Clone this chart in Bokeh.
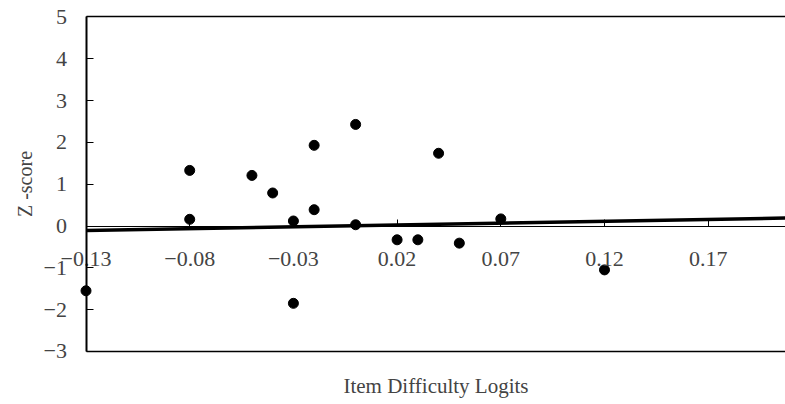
from bokeh.plotting import figure
from bokeh.models import LinearAxis, FixedTicker, Range1d
from bokeh.embed import file_html
from bokeh.resources import INLINE

# Item difficulty (logits) vs. standardized fit (Z-score)
item_logits = [-0.13, -0.08, -0.08, -0.05, -0.04, -0.03, -0.03, -0.02, -0.02,
               0.00, 0.00, 0.02, 0.03, 0.04, 0.05, 0.07, 0.12]
z_scores = [-1.55, 0.16, 1.33, 1.21, 0.79, 0.12, -1.85, 1.93, 0.39,
            2.43, 0.03, -0.33, -0.33, 1.74, -0.41, 0.17, -1.05]

# Linear trend line endpoints
trend_x = [-0.13, 0.2073]
trend_y = [-0.11, 0.19]

x_ticks = [-0.13, -0.08, -0.03, 0.02, 0.07, 0.12, 0.17]
x_tick_labels = ["\u22120.13", "\u22120.08", "\u22120.03", "0.02", "0.07", "0.12", "0.17"]
y_ticks = [-3, -2, -1, 0, 1, 2, 3, 4, 5]
y_tick_labels = ["\u22123", "\u22122", "\u22121", "0", "1", "2", "3", "4", "5"]

X_MIN, X_MAX = -0.13, 0.2073
Y_MIN, Y_MAX = -3, 5

FONT = "Liberation Serif"


def bare(axis):
    axis.major_label_text_color = None
    axis.major_tick_in = 0
    axis.major_tick_out = 0
    axis.minor_tick_in = 0
    axis.minor_tick_out = 0


# the frame fills the page; axes sit at fixed data positions inside it
p = figure(width=785, height=404, output_backend="svg", toolbar_location=None,
           x_range=Range1d(-0.17123, 0.20727), y_range=Range1d(-4.2703, 5.3947),
           x_axis_location=None, y_axis_location=None, min_border=0,
           min_border_left=0, min_border_right=0, min_border_top=0, min_border_bottom=0)
p.outline_line_color = None
p.xgrid.visible = False
p.ygrid.visible = False
p.background_fill_color = "white"
p.border_fill_color = "white"

# y axis at the left end of the data range, ticks pointing inward
yax = LinearAxis(ticker=FixedTicker(ticks=y_ticks), fixed_location=X_MIN,
                 bounds=(Y_MIN, Y_MAX),
                 major_label_overrides={t: l for t, l in zip(y_ticks, y_tick_labels)},
                 axis_label="Z -score")
yax.major_tick_in = 7
yax.major_tick_out = 0
yax.minor_tick_in = 0
yax.minor_tick_out = 0
yax.axis_line_width = 2
yax.major_tick_line_width = 1
yax.major_label_text_font = FONT
yax.major_label_text_font_size = "22px"
yax.major_label_standoff = 19
yax.axis_label_text_font = FONT
yax.axis_label_text_font_size = "20px"
yax.axis_label_text_font_style = "normal"
yax.axis_label_standoff = 5
p.add_layout(yax, "left")

# x axis drawn through y = 0
xax = LinearAxis(ticker=FixedTicker(ticks=x_ticks), fixed_location=0,
                 bounds=(X_MIN, X_MAX),
                 major_label_overrides={t: l for t, l in zip(x_ticks, x_tick_labels)})
xax.major_tick_in = 7
xax.major_tick_out = 0
xax.minor_tick_in = 0
xax.minor_tick_out = 0
xax.axis_line_width = 1
xax.major_label_text_font = FONT
xax.major_label_text_font_size = "22px"
xax.major_label_standoff = 26
p.add_layout(xax, "below")

# rules along the bottom and top of the data area; bottom carries the title
bottom = LinearAxis(ticker=FixedTicker(ticks=[]), fixed_location=Y_MIN,
                    bounds=(X_MIN, X_MAX), axis_label="Item Difficulty Logits")
bare(bottom)
bottom.axis_line_width = 1.5
bottom.axis_label_text_font = FONT
bottom.axis_label_text_font_size = "21px"
bottom.axis_label_text_font_style = "normal"
bottom.axis_label_standoff = 22
p.add_layout(bottom, "below")

top = LinearAxis(ticker=FixedTicker(ticks=[]), fixed_location=Y_MAX,
                 bounds=(X_MIN, X_MAX))
bare(top)
top.axis_line_width = 1.5
p.add_layout(top, "above")

p.line(trend_x, trend_y, line_color="black", line_width=3.5)
p.scatter(item_logits, z_scores, size=10, fill_color="black", line_color="black")

open("out.html", "w").write(file_html(p, INLINE))
